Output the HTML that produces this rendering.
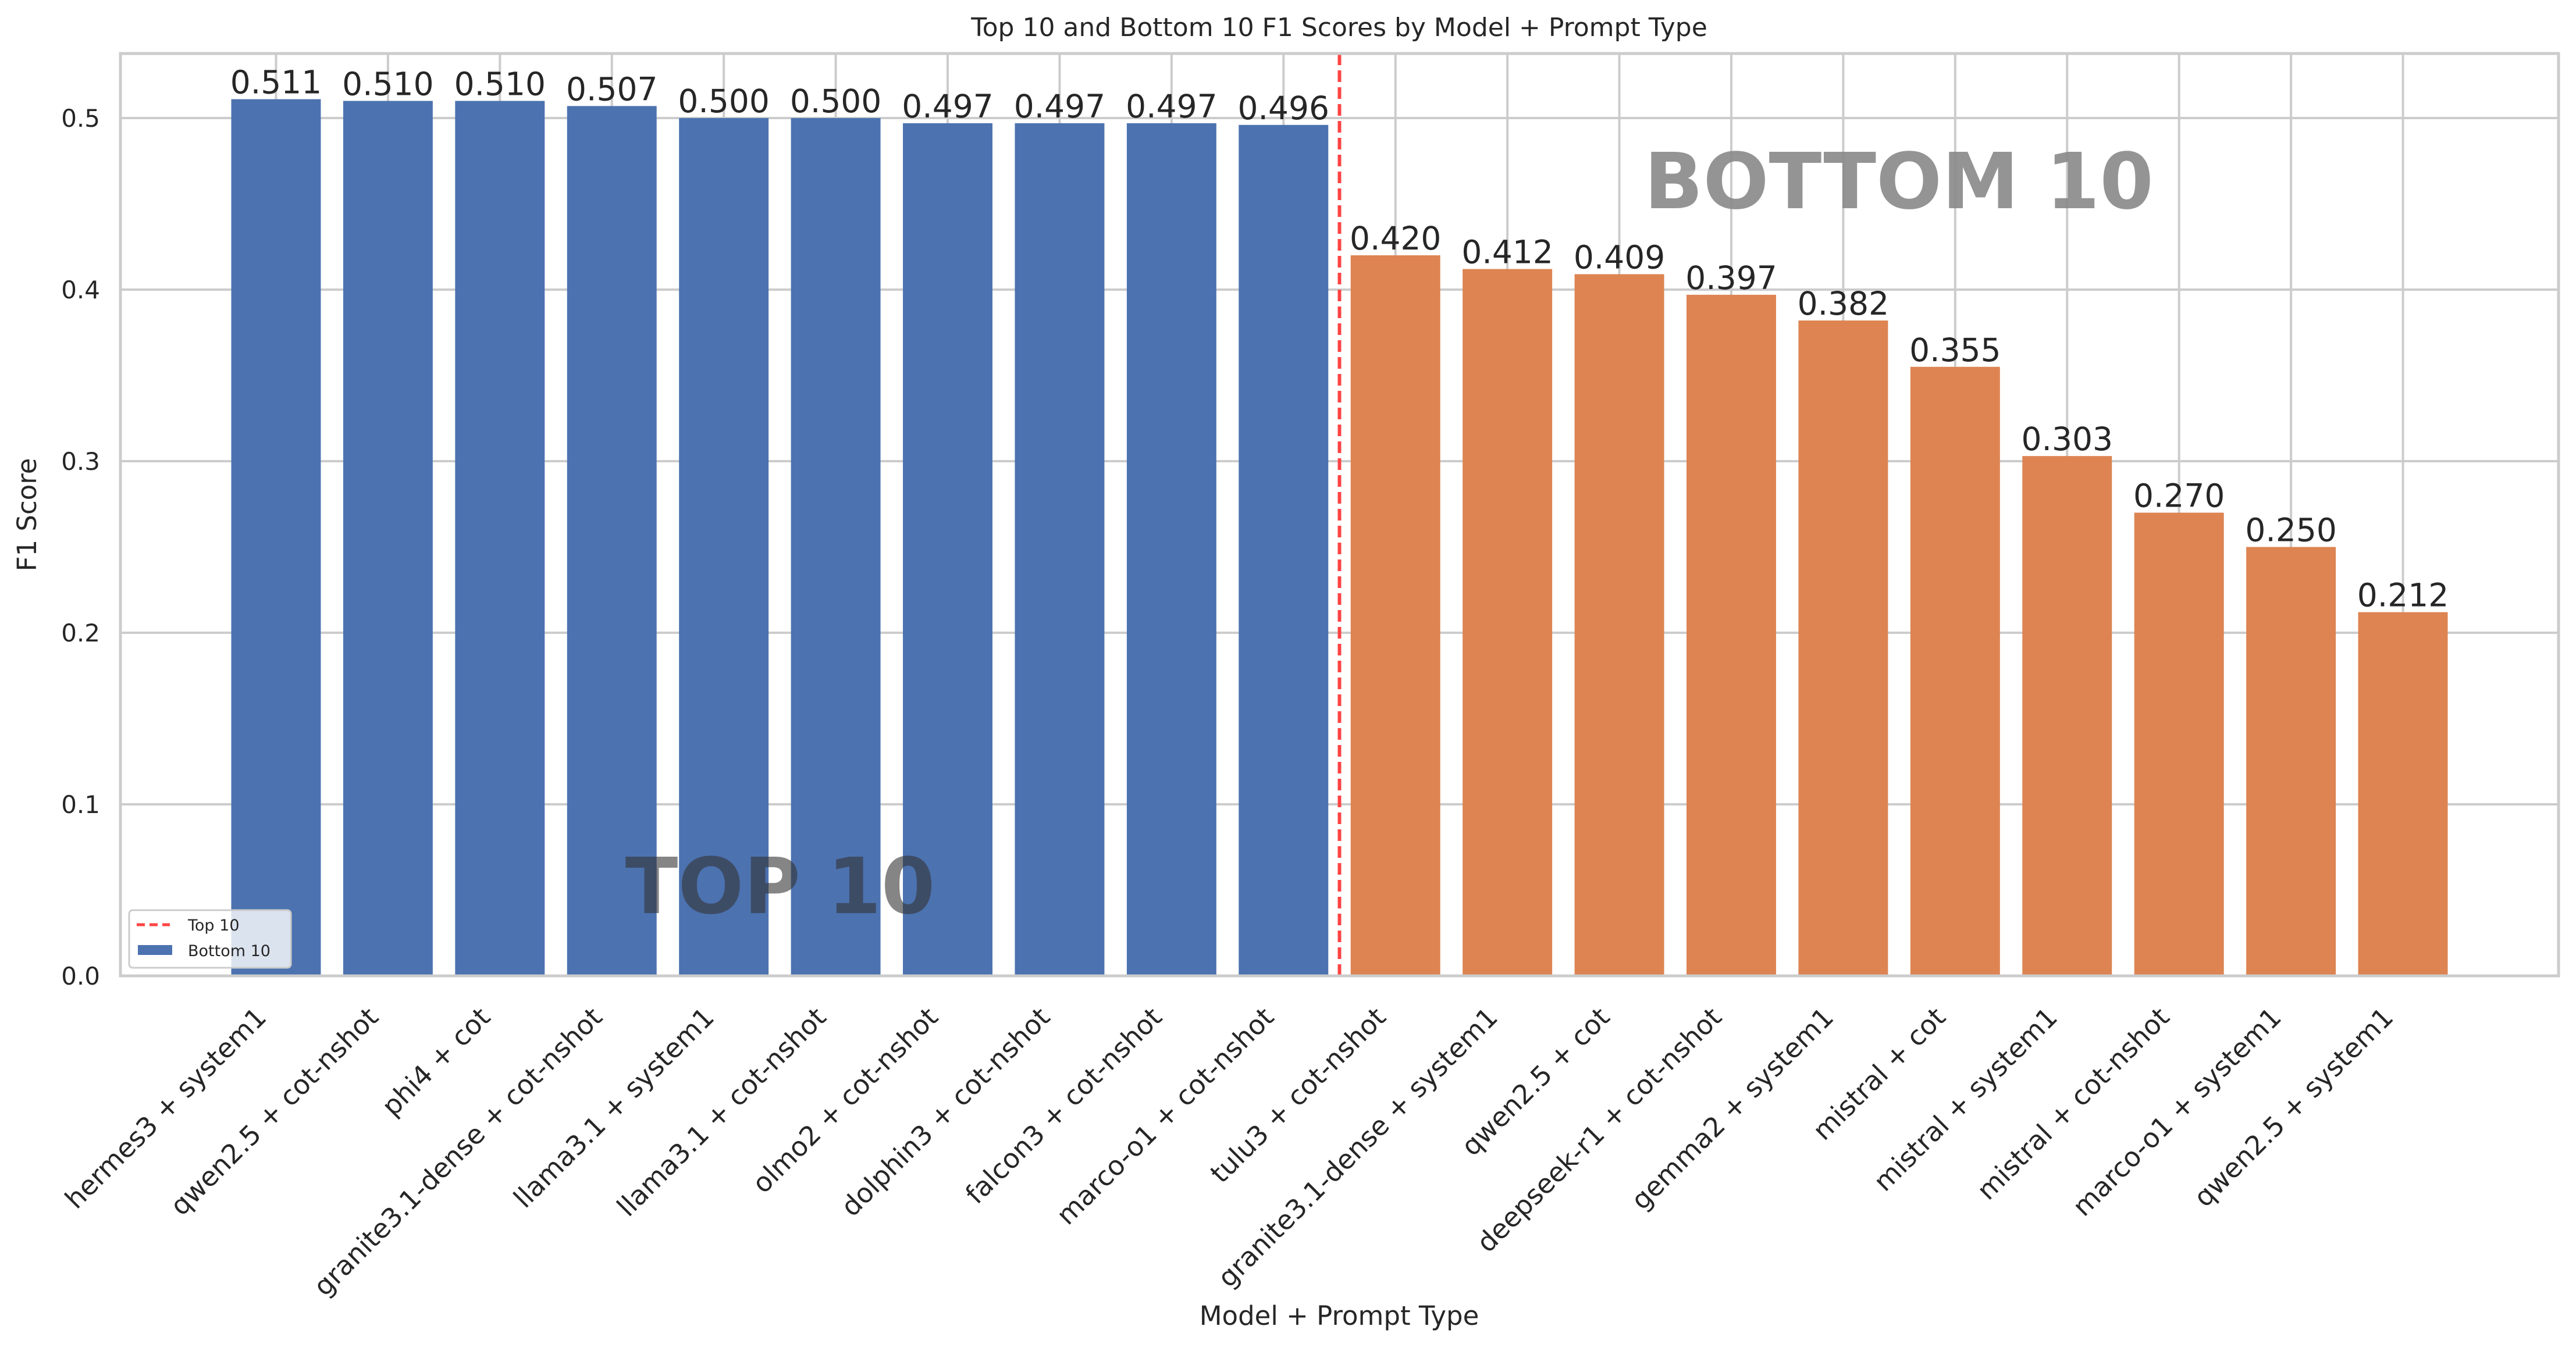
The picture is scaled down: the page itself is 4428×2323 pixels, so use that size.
<!DOCTYPE html>
<html><head><meta charset="utf-8"><style>
html,body{margin:0;padding:0;background:#fff}
svg{display:block;font-family:"DejaVu Sans","Liberation Sans",sans-serif}
</style></head><body>
<svg id="chart" width="4428" height="2323" viewBox="0 0 4428 2323" xmlns="http://www.w3.org/2000/svg">
<text x="2302" y="62" font-size="44" text-anchor="middle" fill="#262626">Top 10 and Bottom 10 F1 Scores by Model + Prompt Type</text>
<g id="grid"></g>
<g id="bars"></g>
<g id="labels"></g>
<rect x="207" y="92" width="4191" height="1586" fill="none" stroke="#cccccc" stroke-width="5"/>
<text x="2302" y="2278" font-size="45" text-anchor="middle" fill="#262626">Model + Prompt Type</text>
<text transform="translate(62,885) rotate(-90)" font-size="45" text-anchor="middle" fill="#262626">F1 Score</text>
<g>
<rect x="222" y="1565" width="278" height="99" rx="6" fill="#fff" fill-opacity="0.8" stroke="#cccccc" stroke-width="3"/>
<line x1="235" y1="1590" x2="292" y2="1590" stroke="#ff4444" stroke-width="5" stroke-dasharray="14,8"/>
<text x="323" y="1600" font-size="27" fill="#262626">Top 10</text>
<rect x="237" y="1625" width="59" height="17" fill="#4c72b0"/>
<text x="323" y="1644" font-size="27" fill="#262626">Bottom 10</text>
</g>
</svg>
<script>
const categories = ["hermes3 + system1","qwen2.5 + cot-nshot","phi4 + cot","granite3.1-dense + cot-nshot","llama3.1 + system1","llama3.1 + cot-nshot","olmo2 + cot-nshot","dolphin3 + cot-nshot","falcon3 + cot-nshot","marco-o1 + cot-nshot","tulu3 + cot-nshot","granite3.1-dense + system1","qwen2.5 + cot","deepseek-r1 + cot-nshot","gemma2 + system1","mistral + cot","mistral + system1","mistral + cot-nshot","marco-o1 + system1","qwen2.5 + system1"];
const scores = [0.511,0.510,0.510,0.507,0.500,0.500,0.497,0.497,0.497,0.496,0.420,0.412,0.409,0.397,0.382,0.355,0.303,0.270,0.250,0.212];
const valueLabels = ["0.511","0.510","0.510","0.507","0.500","0.500","0.497","0.497","0.497","0.496","0.420","0.412","0.409","0.397","0.382","0.355","0.303","0.270","0.250","0.212"];
const yTicks = [0.0,0.1,0.2,0.3,0.4,0.5];
const yTickLabels = ["0.0","0.1","0.2","0.3","0.4","0.5"];
const topCount = 10;

const NS="http://www.w3.org/2000/svg";
const L=207,R=4398,T=92,B=1678;
const xMin=-1.39,xMax=categories.length-1+1.39;
const yMin=0,yMax=(B-T)/2950;
function xs(i){return L+(i-xMin)/(xMax-xMin)*(R-L);}
function ys(v){return B-(v-yMin)/(yMax-yMin)*(B-T);}
const unit=(R-L)/(xMax-xMin);
function mk(tag,attrs,parent){const e=document.createElementNS(NS,tag);for(const k in attrs)e.setAttribute(k,attrs[k]);parent.appendChild(e);return e;}
const grid=document.getElementById('grid'),bars=document.getElementById('bars'),labels=document.getElementById('labels');
yTicks.forEach((t,i)=>{
  const g=mk('line',{x1:L,x2:R,y1:ys(t),y2:ys(t),stroke:'#cccccc','stroke-width':4},grid);
  
  
  const tx=mk('text',{x:172,y:ys(t)+15,'font-size':42,'text-anchor':'end',fill:'#262626'},labels);
  tx.textContent=yTickLabels[i];
  
  
});
categories.forEach((c,i)=>{
  const g=mk('line',{x1:xs(i),x2:xs(i),y1:T,y2:B,stroke:'#cccccc','stroke-width':4},grid);
  
  
});
categories.forEach((c,i)=>{
  const bw=0.8*unit;
  const r=mk('rect',{x:xs(i)-bw/2,y:ys(scores[i]),width:bw,height:B-ys(scores[i]),fill:i<topCount?'#4c72b0':'#dd8452'},bars);
  
  
  const v=mk('text',{x:xs(i),y:ys(scores[i])-10,'font-size':55,'text-anchor':'middle',fill:'#262626'},labels);
  v.textContent=valueLabels[i];
  
  
  const ax=xs(i)-14, ay=1752;
  const t=mk('text',{x:ax,y:ay,'font-size':46,'text-anchor':'end',fill:'#262626',transform:`rotate(-45 ${ax} ${ay})`},labels);
  t.textContent=c;
  
  
});
const dx=xs(topCount-0.5);
const dl=mk('line',{x1:dx,x2:dx,y1:T,y2:B,stroke:'#ff4444','stroke-width':6,'stroke-dasharray':'20,9'},labels);


const t1=mk('text',{x:1341,y:1570,'font-size':133,'font-weight':'bold','text-anchor':'middle',fill:'#333333','fill-opacity':'0.6'},labels);
t1.textContent='TOP 10';


const t2=mk('text',{x:3264,y:358,'font-size':133,'font-weight':'bold','text-anchor':'middle',fill:'#888888','fill-opacity':'0.9'},labels);
t2.textContent='BOTTOM 10';


</script>
</body></html>
